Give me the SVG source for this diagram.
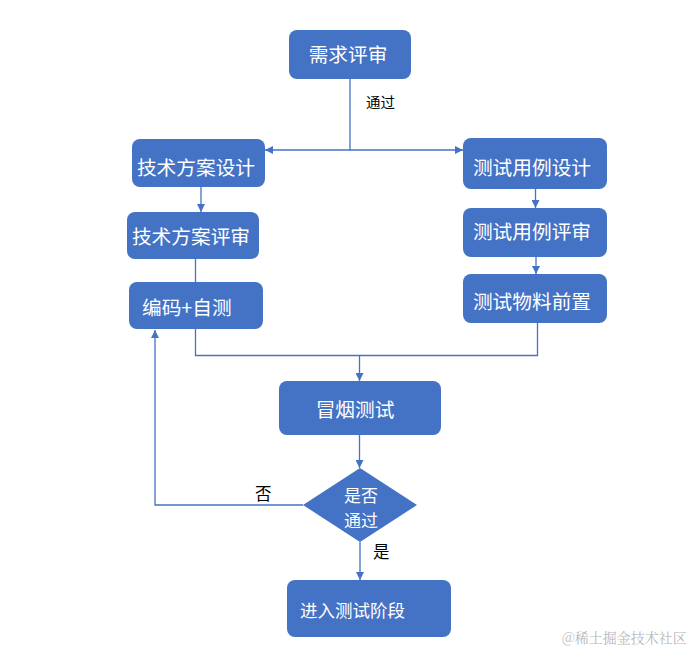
<svg xmlns="http://www.w3.org/2000/svg" width="696" height="653" viewBox="0 0 696 653">
<defs>
<style>
.box{fill:#4472C4;}
.t{fill:#ffffff;font-family:"Noto Sans CJK SC","Noto Sans",sans-serif;font-size:19.7px;dominant-baseline:central;}
.lbl{fill:#000000;font-family:"Noto Sans CJK SC","Noto Sans",sans-serif;dominant-baseline:central;}
.ln{fill:none;stroke:#4472C4;stroke-width:1.3;}
</style>
<marker id="ah" viewBox="0 0 10 10" refX="10" refY="5" markerWidth="8" markerHeight="8" markerUnits="userSpaceOnUse" orient="auto">
<path d="M0,0 L10,5 L0,10 z" fill="#4472C4"/>
</marker>
</defs>
<rect width="696" height="653" fill="#ffffff"/>
<g id="connectors">
<path class="ln" d="M350,79 V150 H265" marker-end="url(#ah)"/>
<path class="ln" d="M350,150 H463" marker-end="url(#ah)"/>
<path class="ln" d="M201,187 V212" marker-end="url(#ah)"/>
<path class="ln" d="M535.5,189 V208" marker-end="url(#ah)"/>
<path class="ln" d="M536,257 V274" marker-end="url(#ah)"/>
<path class="ln" d="M195.5,259 V282"/>
<path class="ln" d="M195.5,329 V355.5 H537.5 V323"/>
<path class="ln" d="M359.5,355.5 V381" marker-end="url(#ah)"/>
<path class="ln" d="M359.5,435 V468" marker-end="url(#ah)"/>
<path class="ln" d="M303,505 H155 V330" marker-end="url(#ah)"/>
<path class="ln" d="M360,542 V580" marker-end="url(#ah)"/>
<text class="lbl" x="366" y="101" font-size="14.5">通过</text>
<text class="lbl" x="255" y="493" font-size="16.5">否</text>
<text class="lbl" x="373" y="551" font-size="16.5">是</text>
</g>
<g id="n1"><rect class="box" x="289" y="30" width="122" height="49" rx="8"/><text class="t" x="348" y="53" text-anchor="middle">需求评审</text></g>
<g id="n2"><rect class="box" x="132" y="139" width="133" height="48" rx="8"/><text class="t" x="196" y="166" text-anchor="middle">技术方案设计</text></g>
<g id="n3"><rect class="box" x="463" y="138" width="144" height="51" rx="8"/><text class="t" x="532" y="166" text-anchor="middle">测试用例设计</text></g>
<g id="n4"><rect class="box" x="127" y="212" width="132" height="47" rx="8"/><text class="t" x="191" y="235" text-anchor="middle">技术方案评审</text></g>
<g id="n5"><rect class="box" x="463" y="208" width="144" height="49" rx="8"/><text class="t" x="532" y="230" text-anchor="middle">测试用例评审</text></g>
<g id="n6"><rect class="box" x="129" y="282" width="134" height="47" rx="8"/><text class="t" x="142" y="306">编码+自测</text></g>
<g id="n7"><rect class="box" x="463" y="274" width="144" height="49" rx="8"/><text class="t" x="532" y="300" text-anchor="middle">测试物料前置</text></g>
<g id="n8"><rect class="box" x="279" y="381" width="162" height="54" rx="8"/><text class="t" x="355" y="408" text-anchor="middle">冒烟测试</text></g>
<g id="n9"><polygon class="box" points="360,468 417,505 360,542 303,505"/><text class="t" x="361" y="494" text-anchor="middle" style="font-size:17px">是否</text><text class="t" x="361" y="519" text-anchor="middle" style="font-size:17px">通过</text></g>
<g id="n10"><rect class="box" x="287" y="580" width="164" height="57" rx="8"/><text class="t" x="300" y="609" style="font-size:17.5px">进入测试阶段</text></g>
<text x="562" y="637" font-family="'Noto Serif CJK SC','Noto Sans CJK SC',serif" font-size="14" fill="#b8b8b8" dominant-baseline="central">@稀土掘金技术社区</text>
</svg>
